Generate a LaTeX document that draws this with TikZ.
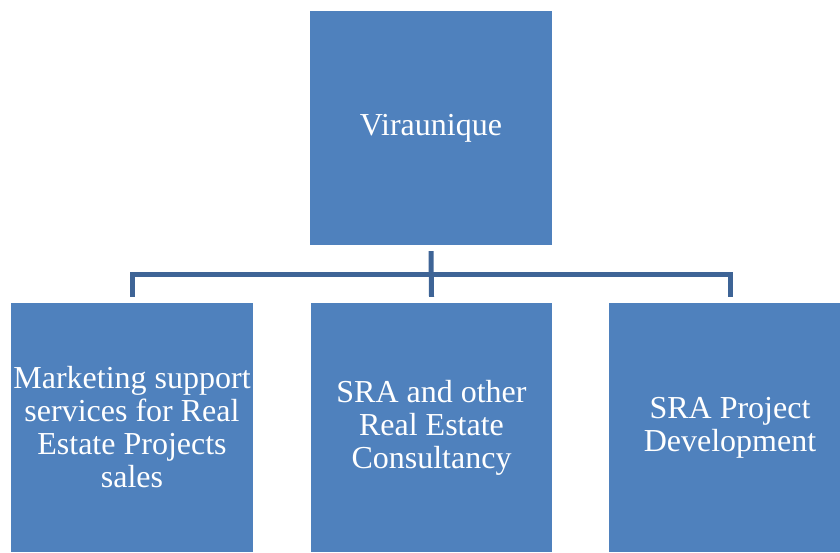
\documentclass[tikz,border=0pt]{standalone}
\usepackage{tikz}
\usepackage{xcolor}
\usepackage{fontspec}
\setmainfont{Liberation Serif}

\definecolor{boxblue}{RGB}{79,129,189}
\definecolor{lineblue}{RGB}{62,100,150}

\begin{document}
\begin{tikzpicture}[x=1pt,y=-1pt,
		unit/.style={draw=none,fill=boxblue,text=white,align=center,inner sep=0pt,
			minimum width=242pt,font=\fontsize{32}{33}\selectfont},
		link/.style={draw=lineblue,line width=5pt}]
				\useasboundingbox (0,0) rectangle (840,552);
				% top of the chart
				\node[unit,minimum height=234pt] (viraunique) at (431,128) {Viraunique};
				% three branches
				\node[unit,minimum height=249pt] (marketing) at (132,427.5)
				{Marketing support\\services for Real\\Estate Projects\\sales};
				\node[unit,minimum width=241pt,minimum height=249pt] (consultancy) at (431.5,427.5)
				{SRA and other\\Real Estate\\Consultancy};
				\node[unit,minimum height=249pt] (development) at (730,427.5)
				{SRA Project\\Development};
				% connectors
				\coordinate (bus) at (431,274);
				\draw[link] ([yshift=-6pt]viraunique.south) -- ([yshift=6pt]consultancy.north);
				\draw[link] ([yshift=6pt]marketing.north) |- (bus) -| ([yshift=6pt]development.north);
		\end{tikzpicture}
\end{document}
